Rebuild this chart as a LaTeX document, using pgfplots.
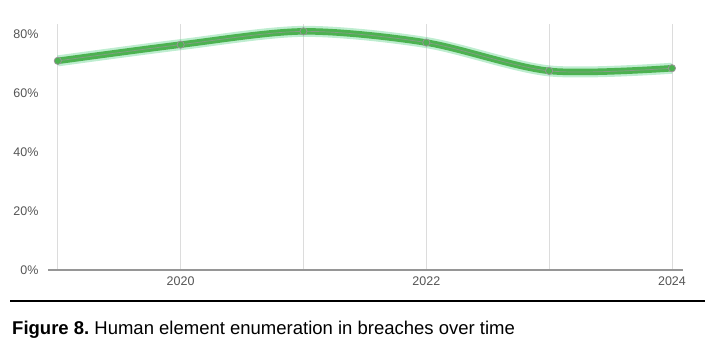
\documentclass[border=0pt]{standalone}
\usepackage{fontspec}
\setmainfont{Liberation Sans}
\usepackage{pgfplots}
\pgfplotsset{compat=1.18}
\definecolor{lgreen}{RGB}{76,178,80}
\definecolor{lband}{RGB}{110,215,150}
\definecolor{tickgray}{RGB}{85,85,85}
\definecolor{gridgray}{RGB}{220,220,220}
\definecolor{axgray}{RGB}{150,150,150}
\begin{document}
\frenchspacing
\begin{tikzpicture}[x=1pt,y=1pt]
\path (0,0) rectangle (717,351);
\begin{axis}[
  at={(48pt,81pt)}, anchor=south west,
  scale only axis, width=635pt, height=246pt,
  xmin=2018.92, xmax=2024.09, ymin=0, ymax=83.4,
  axis x line*=bottom, axis y line*=left,
  x axis line style={draw=axgray, line width=1.5pt},
  y axis line style={draw=none},
  xtick={2019,2020,2021,2022,2023,2024},
  xticklabels={,2020,,2022,,2024},
  ytick={0,20,40,60,80},
  yticklabels={0\%,20\%,40\%,60\%,80\%},
  major tick length=0pt,
  xmajorgrids, grid style={draw=gridgray, line width=0.9pt},
  tick label style={text=tickgray, font=\fontsize{12.5}{13}\selectfont},
  yticklabel style={anchor=east, xshift=-6pt},
  xticklabel style={yshift=-3pt},
  clip=false,
]
\addplot[lband, opacity=0.45, line width=11pt, smooth] coordinates {(2019,70.9) (2020,76.4) (2021,80.9) (2022,77.1) (2023,67.5) (2024,68.4)};
\addplot[lgreen, line width=6.5pt, smooth] coordinates {(2019,70.9) (2020,76.4) (2021,80.9) (2022,77.1) (2023,67.5) (2024,68.4)};
\addplot[axgray, opacity=0.8, line width=0.7pt, smooth, mark=*, mark size=3.6pt, mark options={fill=lgreen, draw=axgray, line width=0.8pt, opacity=1}] coordinates {(2019,70.9) (2020,76.4) (2021,80.9) (2022,77.1) (2023,67.5) (2024,68.4)};
\end{axis}
\draw[black, line width=2.6pt] (10,50) -- (705,50);
\node[anchor=base west, inner sep=0pt] at (12,17) {\fontsize{18.5}{20}\selectfont\textbf{Figure 8.} Human element enumeration in breaches over time};
\end{tikzpicture}
\end{document}
